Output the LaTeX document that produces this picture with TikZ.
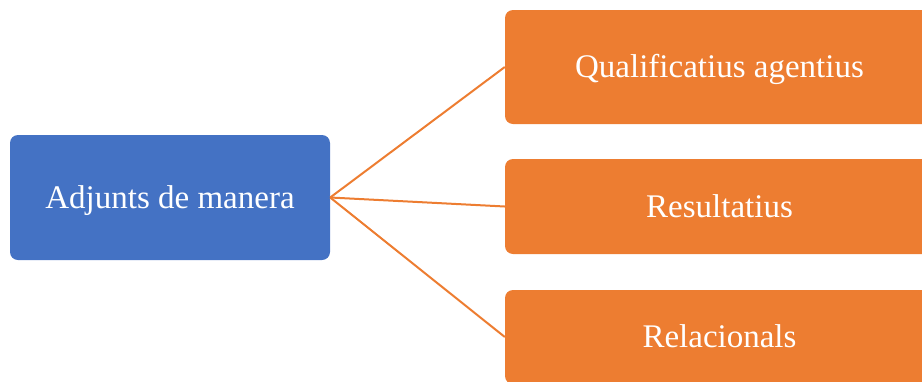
\documentclass[tikz,border=0pt]{standalone}
\usepackage{fontspec}
\setmainfont{Liberation Serif}
\definecolor{myblue}{HTML}{4472C4}
\definecolor{myorange}{HTML}{ED7D31}
\begin{document}
\begin{tikzpicture}[x=1pt,y=-1pt,
  boxstyle/.style={rectangle,rounded corners=8pt,text=white,inner sep=0pt,
    font=\fontsize{33}{38}\selectfont,text height=21.5pt,text depth=0pt},
  bluebox/.style={boxstyle,fill=myblue},
  orangebox/.style={boxstyle,fill=myorange},
  link/.style={draw=myorange,line width=2pt}]
\useasboundingbox (0,0) rectangle (922,381);
\clip (0,0) rectangle (922,381);
\node[bluebox,minimum width=320pt,minimum height=125pt] (root) at (170,197.5) {Adjunts de manera};
\node[orangebox,minimum width=429pt,minimum height=114pt] (a) at (719.5,67) {Qualificatius agentius};
\node[orangebox,minimum width=429pt,minimum height=95pt] (b) at (719.5,206.5) {Resultatius};
\node[orangebox,minimum width=429pt,minimum height=94pt] (c) at (719.5,337) {Relacionals};
\draw[link] (root.east) -- (a.west);
\draw[link] (root.east) -- (b.west);
\draw[link] (root.east) -- (c.west);
\end{tikzpicture}
\end{document}
